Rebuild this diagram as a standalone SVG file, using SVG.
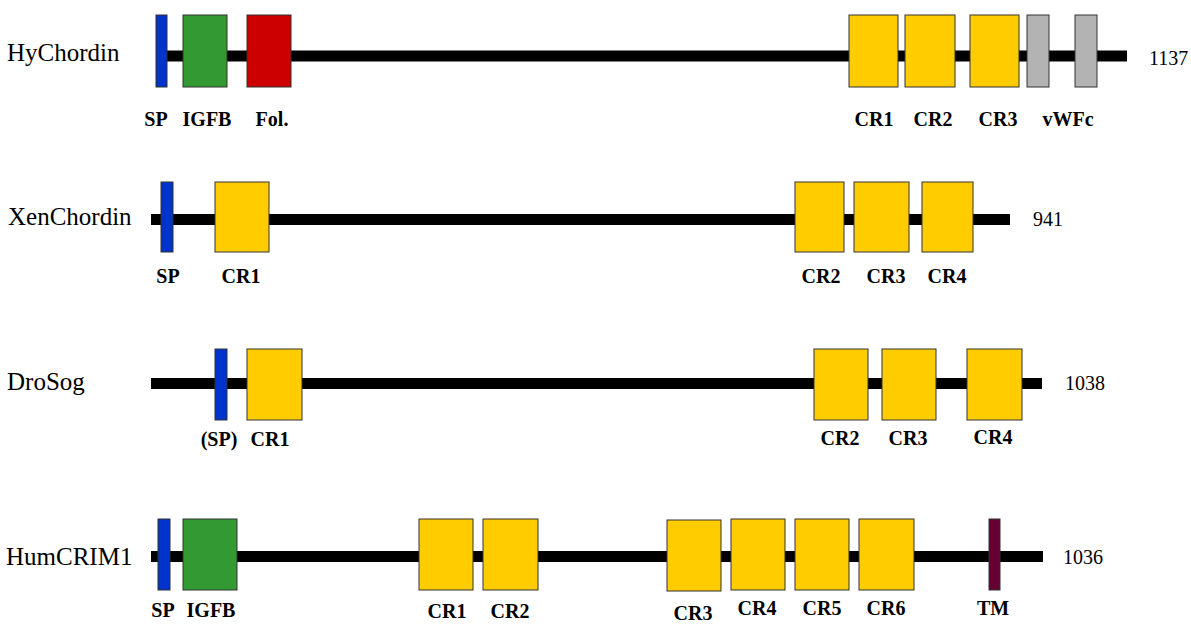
<svg xmlns="http://www.w3.org/2000/svg" width="1191" height="630" viewBox="0 0 1191 630">
<style>
.bg{fill:#fff}
.ln{stroke:#000;stroke-width:11}
.d{stroke:#333;stroke-width:1}
.sp{fill:#0033cc}
.ig{fill:#339933}
.fo{fill:#cc0000}
.cr{fill:#ffcc00}
.vw{fill:#b3b3b3}
.tm{fill:#660033}
.nm{font-family:"Liberation Serif","Times New Roman",serif;font-size:25px;fill:#000}
.num{font-family:"Liberation Serif","Times New Roman",serif;font-size:20px;fill:#000}
.lb{font-family:"Liberation Serif","Times New Roman",serif;font-size:20px;font-weight:bold;fill:#000;text-anchor:middle}
</style>
<rect class="bg" x="0" y="0" width="1191" height="630"/>
<g id="connectors">
<line class="ln" x1="156" y1="56" x2="1127" y2="56"/>
<line class="ln" x1="151" y1="219.5" x2="1010" y2="219.5"/>
<line class="ln" x1="151" y1="383.5" x2="1042" y2="383.5"/>
<line class="ln" x1="151" y1="556.5" x2="1043" y2="556.5"/>
</g>
<g id="HyChordin">
<text class="nm" x="7" y="61">HyChordin</text>
<rect class="d sp" x="156" y="15" width="11" height="72"/>
<rect class="d ig" x="183" y="15" width="44" height="72"/>
<rect class="d fo" x="247" y="15" width="44" height="72"/>
<rect class="d cr" x="849" y="15" width="49" height="72"/>
<rect class="d cr" x="905" y="15" width="50" height="72"/>
<rect class="d cr" x="970" y="15" width="49" height="72"/>
<rect class="d vw" x="1027" y="15" width="22" height="72"/>
<rect class="d vw" x="1075" y="15" width="22" height="72"/>
<text class="num" x="1149" y="65">1137</text>
<text class="lb" x="156" y="126">SP</text>
<text class="lb" x="207" y="126">IGFB</text>
<text class="lb" x="272" y="126">Fol.</text>
<text class="lb" x="874" y="126">CR1</text>
<text class="lb" x="933" y="126">CR2</text>
<text class="lb" x="998" y="126">CR3</text>
<text class="lb" x="1068" y="126">vWFc</text>
</g>
<g id="XenChordin">
<text class="nm" x="8" y="225">XenChordin</text>
<rect class="d sp" x="161" y="182" width="12" height="70"/>
<rect class="d cr" x="215" y="182" width="54" height="70"/>
<rect class="d cr" x="795" y="182" width="49" height="70"/>
<rect class="d cr" x="854" y="182" width="55" height="70"/>
<rect class="d cr" x="922" y="182" width="51" height="70"/>
<text class="num" x="1033" y="226">941</text>
<text class="lb" x="168" y="283">SP</text>
<text class="lb" x="241" y="283">CR1</text>
<text class="lb" x="821" y="283">CR2</text>
<text class="lb" x="886" y="283">CR3</text>
<text class="lb" x="947" y="283">CR4</text>
</g>
<g id="DroSog">
<text class="nm" x="7" y="390">DroSog</text>
<rect class="d sp" x="215" y="349" width="12" height="71"/>
<rect class="d cr" x="247" y="349" width="55" height="71"/>
<rect class="d cr" x="814" y="349" width="54" height="71"/>
<rect class="d cr" x="882" y="349" width="54" height="71"/>
<rect class="d cr" x="967" y="349" width="55" height="71"/>
<text class="num" x="1065" y="390">1038</text>
<text class="lb" x="219" y="446">(SP)</text>
<text class="lb" x="270" y="446">CR1</text>
<text class="lb" x="840" y="445">CR2</text>
<text class="lb" x="908" y="445">CR3</text>
<text class="lb" x="993" y="444">CR4</text>
</g>
<g id="HumCRIM1">
<text class="nm" x="6" y="565">HumCRIM1</text>
<rect class="d sp" x="158" y="519" width="12" height="71"/>
<rect class="d ig" x="183" y="519" width="54" height="71"/>
<rect class="d cr" x="419" y="519" width="54" height="71"/>
<rect class="d cr" x="483" y="519" width="55" height="71"/>
<rect class="d cr" x="667" y="520" width="54" height="71"/>
<rect class="d cr" x="731" y="519" width="54" height="71"/>
<rect class="d cr" x="795" y="519" width="54" height="71"/>
<rect class="d cr" x="859" y="519" width="55" height="71"/>
<rect class="d tm" x="989" y="519" width="11" height="71"/>
<text class="num" x="1063" y="564">1036</text>
<text class="lb" x="163" y="617">SP</text>
<text class="lb" x="211" y="617">IGFB</text>
<text class="lb" x="447" y="618">CR1</text>
<text class="lb" x="510" y="618">CR2</text>
<text class="lb" x="693" y="620">CR3</text>
<text class="lb" x="757" y="615">CR4</text>
<text class="lb" x="822" y="615">CR5</text>
<text class="lb" x="886" y="615">CR6</text>
<text class="lb" x="993" y="615">TM</text>
</g>
</svg>
